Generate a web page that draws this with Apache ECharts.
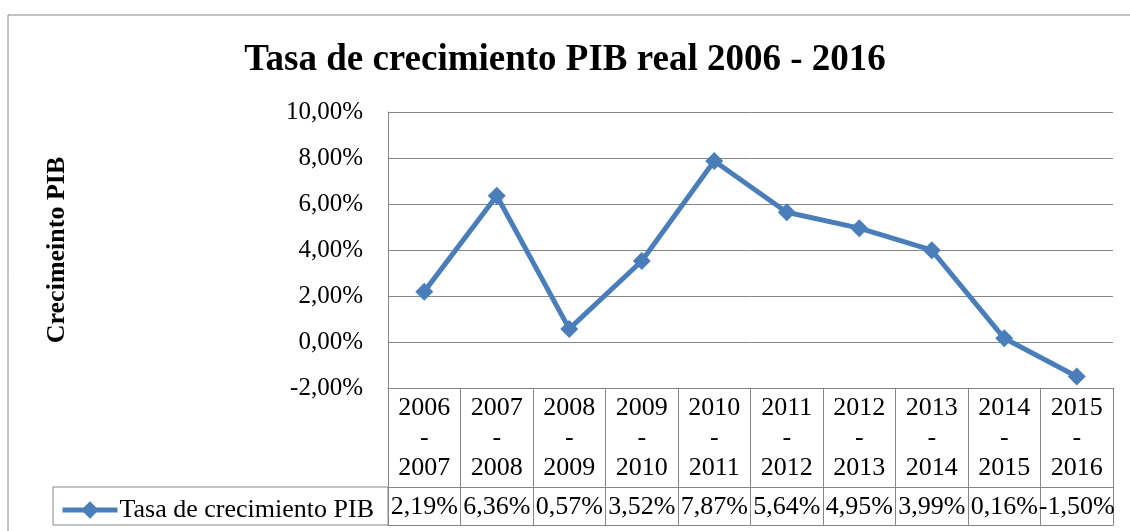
<!DOCTYPE html>
<html>
<head>
<meta charset="utf-8">
<script src="https://cdn.jsdelivr.net/npm/echarts@6/dist/echarts.min.js"></script>
<style>
    html, body { margin: 0; padding: 0; background: #fff; }
    #chart { width: 1130px; height: 531px; }
</style>
</head>
<body>
<div id="chart"></div>
<script>
// Data
const periods = ['2006 - 2007', '2007 - 2008', '2008 - 2009', '2009 - 2010', '2010 - 2011',
    '2011 - 2012', '2012 - 2013', '2013 - 2014', '2014 - 2015', '2015 - 2016'];
const growth = [2.19, 6.36, 0.57, 3.52, 7.87, 5.64, 4.95, 3.99, 0.16, -1.50];
const seriesName = 'Tasa de crecimiento PIB';

const FONT = 'Liberation Serif';
const GREY = '#868686';
const BLUE = '#4a7ebb';

function pct(v) {
    return v.toFixed(2).replace('.', ',') + '%';
}

function getOption() {
    const option = {
        backgroundColor: '#fff',
        textStyle: { fontFamily: FONT, color: '#000' },
        title: {
            text: 'Tasa de crecimiento PIB real 2006 - 2016',
            left: 'center',
            top: 37,
            textStyle: { fontFamily: FONT, fontSize: 37, fontWeight: 'bold', color: '#000' },
        },
        legend: {
            data: [seriesName],
            left: 55,
            top: 492,
            itemWidth: 55,
            itemHeight: 22,
            itemGap: 3,
            lineStyle: { width: 5, color: BLUE },
            textStyle: { fontFamily: FONT, fontSize: 26, color: '#000', padding: [0, 0, 0, -3] },
        },
        grid: { left: 388, right: 17, top: 112, bottom: 143 },
        xAxis: [
            {
                // header row of the data table
                type: 'category',
                data: periods,
                boundaryGap: true,
                axisLine: { onZero: false, lineStyle: { color: GREY, width: 1 } },
                axisTick: { show: true, interval: 0, length: 137, lineStyle: { color: GREY, width: 1 } },
                axisLabel: {
                    interval: 0,
                    margin: 5,
                    fontFamily: FONT,
                    fontSize: 26,
                    lineHeight: 30,
                    color: '#000',
                    formatter: (v) => v.replace(' - ', '\n-\n'),
                },
            },
            {
                // values row of the data table
                type: 'category',
                data: periods,
                position: 'bottom',
                offset: 99,
                axisLine: { onZero: false, lineStyle: { color: GREY, width: 1 } },
                axisTick: { show: false },
                axisLabel: {
                    interval: 0,
                    margin: 7,
                    fontFamily: FONT,
                    fontSize: 26,
                    color: '#000',
                    formatter: (v, i) => pct(growth[i]),
                },
            },
            {
                // bottom edge of the table
                type: 'category',
                data: periods,
                position: 'bottom',
                offset: 137,
                axisLine: { onZero: false, lineStyle: { color: GREY, width: 1 } },
                axisTick: { show: false },
                axisLabel: { show: false },
            },
        ],
        yAxis: {
            type: 'value',
            min: -2,
            max: 10,
            interval: 2,
            name: 'Crecimeinto PIB',
            nameLocation: 'middle',
            nameRotate: 90,
            nameGap: 318,
            nameTextStyle: { fontFamily: FONT, fontSize: 26, fontWeight: 'bold', color: '#000' },
            axisLine: { show: true, lineStyle: { color: GREY, width: 1 } },
            axisTick: { show: false },
            axisLabel: { margin: 25, fontFamily: FONT, fontSize: 25, color: '#000', formatter: pct },
            splitLine: { lineStyle: { color: GREY, width: 1 } },
        },
        graphic: [
            {
                // outer chart frame
                type: 'rect',
                shape: { x: 8, y: 15, width: 1140, height: 540 },
                style: { fill: 'none', stroke: GREY, lineWidth: 1 },
                silent: true,
            },
            {
                // legend cell of the data table
                type: 'rect',
                shape: { x: 53, y: 487, width: 335, height: 38 },
                style: { fill: 'none', stroke: GREY, lineWidth: 1 },
                silent: true,
            },
        ],
        series: [
            {
                name: seriesName,
                type: 'line',
                data: growth,
                symbol: 'diamond',
                symbolSize: 18,
                color: BLUE,
                lineStyle: { color: BLUE, width: 5 },
                itemStyle: { color: BLUE },
            },
        ],
    };
    return option;
}

const chart = echarts.init(document.getElementById('chart'));
chart.setOption(getOption());
</script>
</body>
</html>
